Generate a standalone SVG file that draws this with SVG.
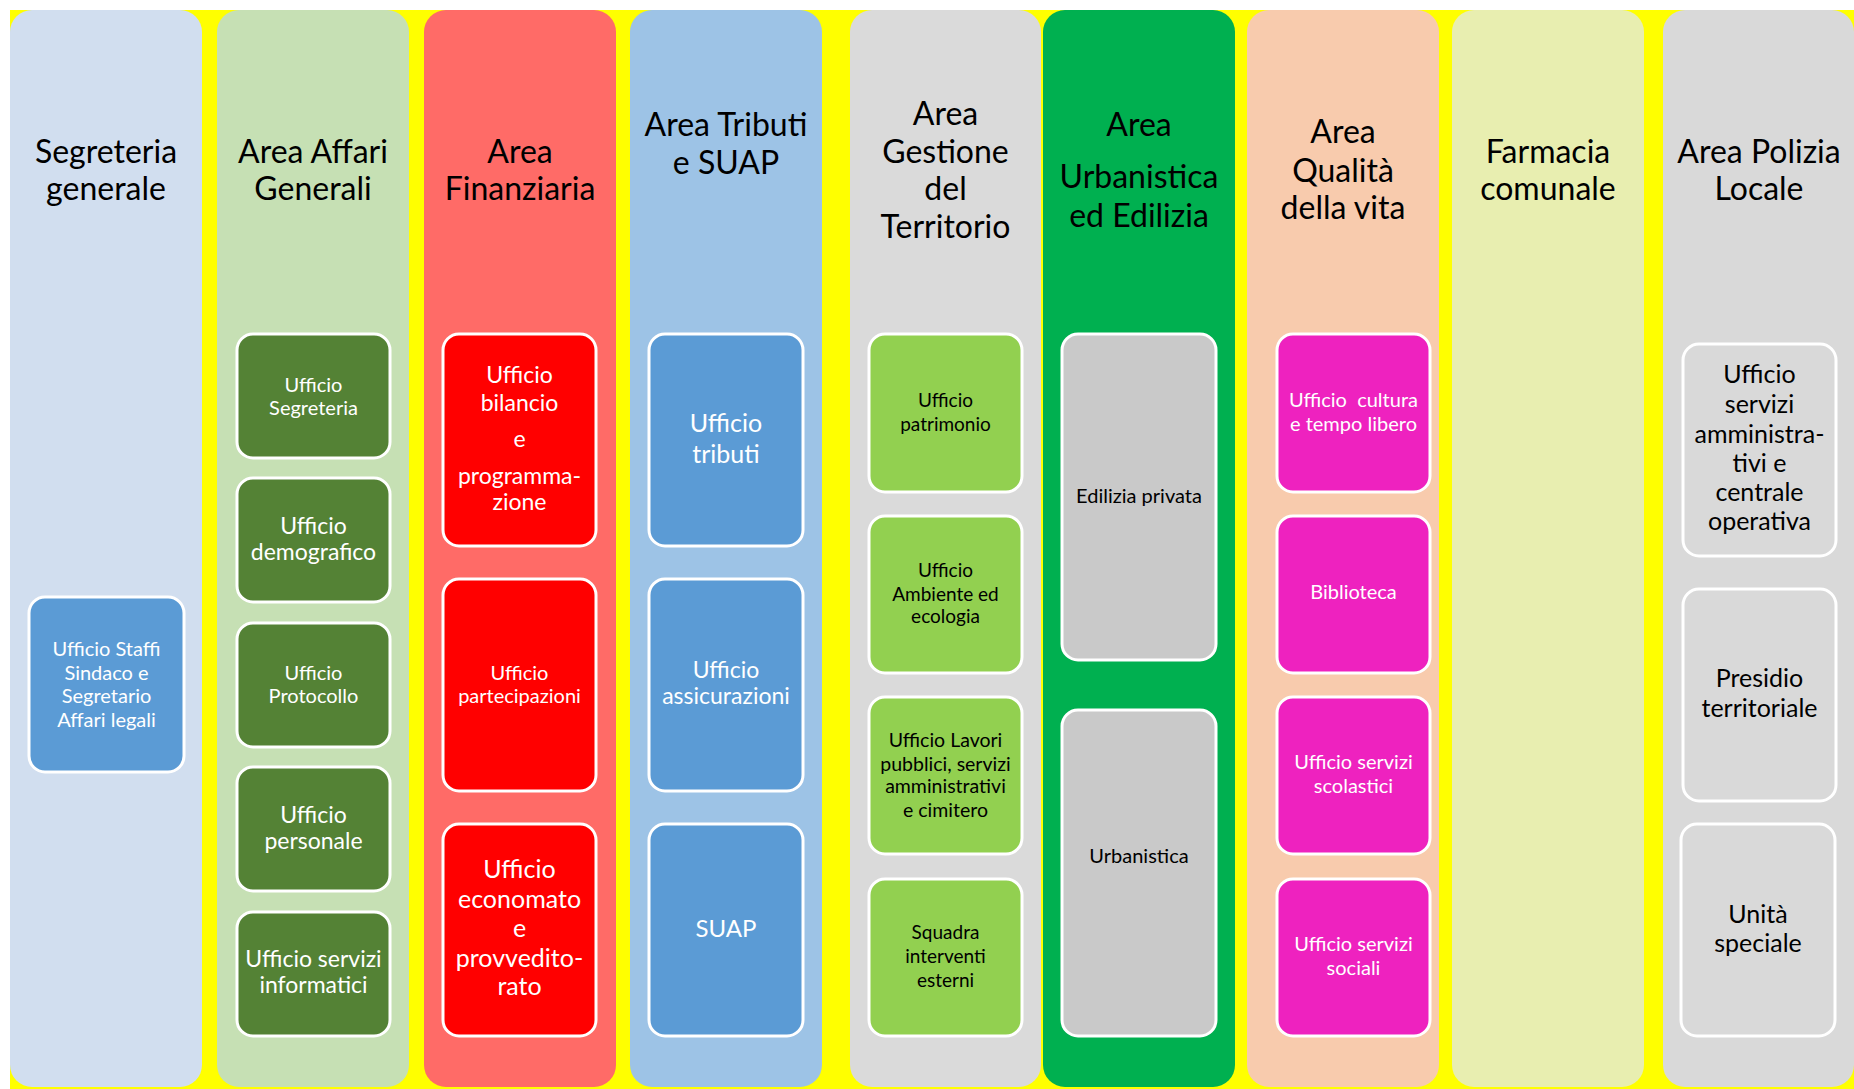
<svg xmlns="http://www.w3.org/2000/svg" width="1854" height="1089" viewBox="0 0 1854 1089">
<style>
text{font-family:Lato,"Liberation Sans",sans-serif;text-anchor:middle}
.t{font-size:32px;fill:#000}
.box{stroke:#fff;stroke-width:3}
.w{fill:#fff}
.k{fill:#000}
</style>
<rect x="0" y="0" width="1854" height="1089" fill="#fff"/>
<rect x="10" y="10" width="1844" height="1079" fill="#ffff00"/>

<g id="col-segreteria">
<rect x="10" y="10" width="192" height="1077" rx="22" fill="#d1deef"/>
<text class="t"><tspan x="106" y="163">Segreteria</tspan><tspan x="106" y="200">generale</tspan></text>
</g>
<g id="col-affari">
<rect x="217" y="10" width="192" height="1077" rx="22" fill="#c6e0b4"/>
<text class="t"><tspan x="313" y="163">Area Affari</tspan><tspan x="313" y="200">Generali</tspan></text>
</g>
<g id="col-finanziaria">
<rect x="424" y="10" width="192" height="1077" rx="22" fill="#ff6b67"/>
<text class="t"><tspan x="520" y="163">Area</tspan><tspan x="520" y="200">Finanziaria</tspan></text>
</g>
<g id="col-tributi">
<rect x="630" y="10" width="192" height="1077" rx="22" fill="#9dc3e6"/>
<text class="t"><tspan x="726" y="136">Area Tributi</tspan><tspan x="726" y="174">e SUAP</tspan></text>
</g>
<g id="col-territorio">
<rect x="850" y="10" width="191" height="1077" rx="22" fill="#dadada"/>
<text class="t"><tspan x="945.5" y="125">Area</tspan><tspan x="945.5" y="163">Gestione</tspan><tspan x="945.5" y="200">del</tspan><tspan x="945.5" y="238">Territorio</tspan></text>
</g>
<g id="col-urbanistica">
<rect x="1043" y="10" width="192" height="1077" rx="22" fill="#00b050"/>
<text class="t"><tspan x="1139" y="136">Area</tspan><tspan x="1139" y="188">Urbanistica</tspan><tspan x="1139" y="227">ed Edilizia</tspan></text>
</g>
<g id="col-qualita">
<rect x="1247" y="10" width="192" height="1077" rx="22" fill="#f8cbad"/>
<text class="t"><tspan x="1343" y="143">Area</tspan><tspan x="1343" y="182">Qualità</tspan><tspan x="1343" y="219">della vita</tspan></text>
</g>
<g id="col-farmacia">
<rect x="1452" y="10" width="192" height="1077" rx="22" fill="#e8eeb0"/>
<text class="t"><tspan x="1548" y="163">Farmacia</tspan><tspan x="1548" y="200">comunale</tspan></text>
</g>
<g id="col-polizia">
<rect x="1663" y="10" width="191" height="1077" rx="22" fill="#d9d9d9"/>
<text class="t"><tspan x="1759" y="163">Area Polizia</tspan><tspan x="1759" y="200">Locale</tspan></text>
</g>

<g id="connectors"></g>

<g id="box-staffi">
<rect class="box" x="29" y="597" width="155" height="175" rx="16" fill="#5b9bd5"/>
<text class="w" font-size="20"><tspan x="106.5" y="656">Ufficio Staffi</tspan><tspan x="106.5" y="680">Sindaco e</tspan><tspan x="106.5" y="703">Segretario</tspan><tspan x="106.5" y="727">Affari legali</tspan></text>
</g>

<g id="box-segreteria">
<rect class="box" x="237" y="334" width="153" height="124" rx="16" fill="#548235"/>
<text class="w" font-size="20"><tspan x="313.5" y="392">Ufficio</tspan><tspan x="313.5" y="415">Segreteria</tspan></text>
</g>
<g id="box-demografico">
<rect class="box" x="237" y="478" width="153" height="124" rx="16" fill="#548235"/>
<text class="w" font-size="23"><tspan x="313.5" y="534">Ufficio</tspan><tspan x="313.5" y="560">demografico</tspan></text>
</g>
<g id="box-protocollo">
<rect class="box" x="237" y="623" width="153" height="124" rx="16" fill="#548235"/>
<text class="w" font-size="20"><tspan x="313.5" y="680">Ufficio</tspan><tspan x="313.5" y="703">Protocollo</tspan></text>
</g>
<g id="box-personale">
<rect class="box" x="237" y="767" width="153" height="124" rx="16" fill="#548235"/>
<text class="w" font-size="23"><tspan x="313.5" y="823">Ufficio</tspan><tspan x="313.5" y="849">personale</tspan></text>
</g>
<g id="box-informatici">
<rect class="box" x="237" y="912" width="153" height="124" rx="16" fill="#548235"/>
<text class="w" font-size="23"><tspan x="313.5" y="967">Ufficio servizi</tspan><tspan x="313.5" y="993">informatici</tspan></text>
</g>

<g id="box-bilancio">
<rect class="box" x="443" y="334" width="153" height="212" rx="16" fill="#ff0000"/>
<text class="w" font-size="23"><tspan x="519.5" y="383">Ufficio</tspan><tspan x="519.5" y="411">bilancio</tspan><tspan x="519.5" y="447">e</tspan><tspan x="519.5" y="484">programma-</tspan><tspan x="519.5" y="510">zione</tspan></text>
</g>
<g id="box-partecipazioni">
<rect class="box" x="443" y="579" width="153" height="212" rx="16" fill="#ff0000"/>
<text class="w" font-size="20"><tspan x="519.5" y="680">Ufficio</tspan><tspan x="519.5" y="703">partecipazioni</tspan></text>
</g>
<g id="box-economato">
<rect class="box" x="443" y="824" width="153" height="212" rx="16" fill="#ff0000"/>
<text class="w" font-size="25"><tspan x="519.5" y="878">Ufficio</tspan><tspan x="519.5" y="908">economato</tspan><tspan x="519.5" y="937">e</tspan><tspan x="519.5" y="967">provvedito-</tspan><tspan x="519.5" y="995">rato</tspan></text>
</g>

<g id="box-tributi">
<rect class="box" x="649" y="334" width="154" height="212" rx="16" fill="#5b9bd5"/>
<text class="w" font-size="25"><tspan x="726" y="432">Ufficio</tspan><tspan x="726" y="463">tributi</tspan></text>
</g>
<g id="box-assicurazioni">
<rect class="box" x="649" y="579" width="154" height="212" rx="16" fill="#5b9bd5"/>
<text class="w" font-size="23"><tspan x="726" y="678">Ufficio</tspan><tspan x="726" y="704">assicurazioni</tspan></text>
</g>
<g id="box-suap">
<rect class="box" x="649" y="824" width="154" height="212" rx="16" fill="#5b9bd5"/>
<text class="w" font-size="24"><tspan x="726" y="937">SUAP</tspan></text>
</g>

<g id="box-patrimonio">
<rect class="box" x="869" y="334" width="153" height="158" rx="16" fill="#92d050"/>
<text class="k" font-size="19"><tspan x="945.5" y="407">Ufficio</tspan><tspan x="945.5" y="431">patrimonio</tspan></text>
</g>
<g id="box-ambiente">
<rect class="box" x="869" y="516" width="153" height="157" rx="16" fill="#92d050"/>
<text class="k" font-size="19"><tspan x="945.5" y="577">Ufficio</tspan><tspan x="945.5" y="601">Ambiente ed</tspan><tspan x="945.5" y="623">ecologia</tspan></text>
</g>
<g id="box-lavori">
<rect class="box" x="869" y="697" width="153" height="157" rx="16" fill="#92d050"/>
<text class="k" font-size="19.5"><tspan x="945.5" y="747">Ufficio Lavori</tspan><tspan x="945.5" y="771">pubblici, servizi</tspan><tspan x="945.5" y="793">amministrativi</tspan><tspan x="945.5" y="817">e cimitero</tspan></text>
</g>
<g id="box-squadra">
<rect class="box" x="869" y="879" width="153" height="157" rx="16" fill="#92d050"/>
<text class="k" font-size="19"><tspan x="945.5" y="939">Squadra</tspan><tspan x="945.5" y="963">interventi</tspan><tspan x="945.5" y="987">esterni</tspan></text>
</g>

<g id="box-edilizia">
<rect class="box" x="1062" y="334" width="154" height="326" rx="16" fill="#c9c9c9"/>
<text class="k" font-size="20"><tspan x="1139" y="503">Edilizia privata</tspan></text>
</g>
<g id="box-urbanistica">
<rect class="box" x="1062" y="710" width="154" height="326" rx="16" fill="#c9c9c9"/>
<text class="k" font-size="20"><tspan x="1139" y="863">Urbanistica</tspan></text>
</g>

<g id="box-cultura">
<rect class="box" x="1277" y="334" width="153" height="158" rx="16" fill="#ee22bf"/>
<text class="w" font-size="20" xml:space="preserve" style="white-space:pre"><tspan x="1353.5" y="407">Ufficio  cultura</tspan><tspan x="1353.5" y="431">e tempo libero</tspan></text>
</g>
<g id="box-biblioteca">
<rect class="box" x="1277" y="516" width="153" height="157" rx="16" fill="#ee22bf"/>
<text class="w" font-size="20"><tspan x="1353.5" y="599">Biblioteca</tspan></text>
</g>
<g id="box-scolastici">
<rect class="box" x="1277" y="697" width="153" height="157" rx="16" fill="#ee22bf"/>
<text class="w" font-size="20"><tspan x="1353.5" y="769">Ufficio servizi</tspan><tspan x="1353.5" y="793">scolastici</tspan></text>
</g>
<g id="box-sociali">
<rect class="box" x="1277" y="879" width="153" height="157" rx="16" fill="#ee22bf"/>
<text class="w" font-size="20"><tspan x="1353.5" y="951">Ufficio servizi</tspan><tspan x="1353.5" y="975">sociali</tspan></text>
</g>

<g id="box-amministrativi">
<rect class="box" x="1683" y="344" width="153" height="212" rx="16" fill="#d9d9d9"/>
<text class="k" font-size="25"><tspan x="1759.5" y="383">Ufficio</tspan><tspan x="1759.5" y="413">servizi</tspan><tspan x="1759.5" y="443">amministra-</tspan><tspan x="1759.5" y="472">tivi e</tspan><tspan x="1759.5" y="501">centrale</tspan><tspan x="1759.5" y="530">operativa</tspan></text>
</g>
<g id="box-presidio">
<rect class="box" x="1683" y="589" width="153" height="212" rx="16" fill="#d9d9d9"/>
<text class="k" font-size="25"><tspan x="1759.5" y="687">Presidio</tspan><tspan x="1759.5" y="717">territoriale</tspan></text>
</g>
<g id="box-unita">
<rect class="box" x="1681" y="824" width="154" height="212" rx="16" fill="#d9d9d9"/>
<text class="k" font-size="25"><tspan x="1758" y="923">Unità</tspan><tspan x="1758" y="952">speciale</tspan></text>
</g>
</svg>
